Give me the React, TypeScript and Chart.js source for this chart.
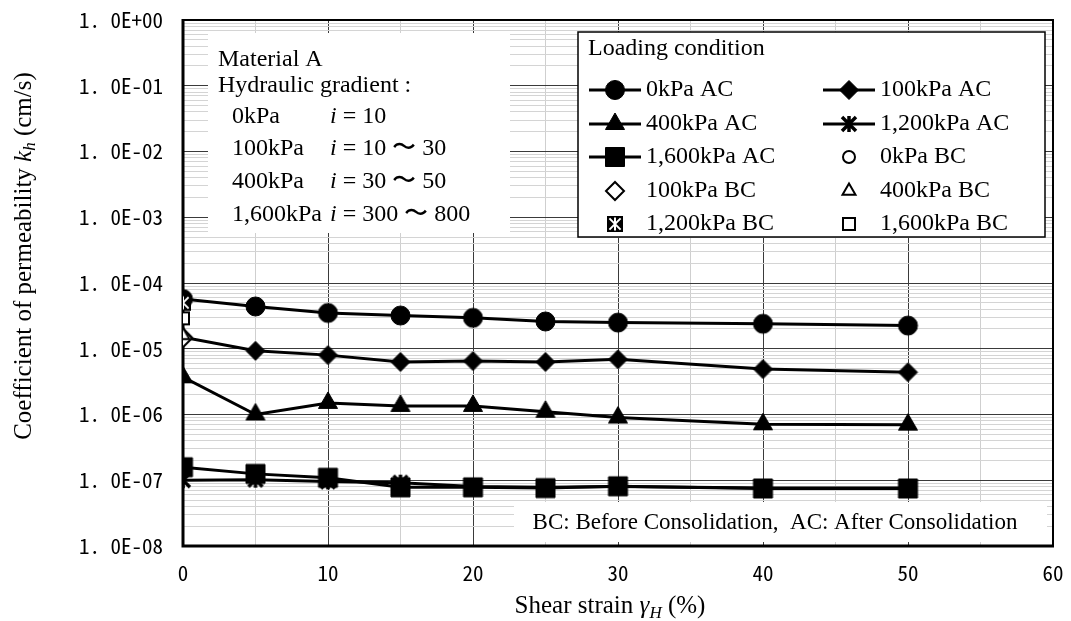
import React, { useEffect, useRef } from 'react';
import { Chart, registerables } from 'chart.js';

Chart.register(...registerables);

// ---------------- data ----------------
const strain = [0, 5, 10, 15, 20, 25, 30, 40, 50];
const k0AC = [5.7e-5, 4.4e-5, 3.5e-5, 3.2e-5, 2.95e-5, 2.6e-5, 2.5e-5, 2.4e-5, 2.25e-5];
const k100AC = [1.5e-5, 9.3e-6, 8.0e-6, 6.3e-6, 6.5e-6, 6.3e-6, 6.9e-6, 4.9e-6, 4.4e-6];
const k400AC = [3.7e-6, 1.0e-6, 1.5e-6, 1.35e-6, 1.35e-6, 1.1e-6, 9.0e-7, 7.1e-7, 7.0e-7];
const k1200AC = [1.0e-7, 1.02e-7, 9.6e-8, 9.2e-8, 8.0e-8, 7.8e-8, 8.0e-8, 7.6e-8, 7.6e-8];
const k1600AC = [1.58e-7, 1.25e-7, 1.09e-7, 7.8e-8, 7.8e-8, 7.6e-8, 8.1e-8, 7.5e-8, 7.5e-8];
const bcStrain = [0];
const k0BC = [5.0e-5];
const k100BC = [1.45e-5];
const k400BC = [1.6e-5];
const k1200BC = [5.0e-5];
const k1600BC = [2.9e-5];

const seriesLabels = [
  '0kPa AC', '100kPa AC', '400kPa AC', '1,200kPa AC', '1,600kPa AC',
  '0kPa BC', '100kPa BC', '400kPa BC', '1,200kPa BC', '1,600kPa BC',
];
const yExponents = [-8, -7, -6, -5, -4, -3, -2, -1, 0];
const yTickLabels = ['1. 0E-08', '1. 0E-07', '1. 0E-06', '1. 0E-05', '1. 0E-04', '1. 0E-03', '1. 0E-02', '1. 0E-01', '1. 0E+00'];
const xTickLabels = ['0', '10', '20', '30', '40', '50', '60'];

const legendTitle = 'Loading condition';
const materialText = 'Material A';
const gradientTitle = 'Hydraulic gradient :';
const gradientPressures = ['0kPa', '100kPa', '400kPa', '1,600kPa'];
const gradientRanges = ['10', '10 〜 30', '30 〜 50', '300 〜 800'];
const noteText = 'BC: Before Consolidation,  AC: After Consolidation';

// ---------------- markers ----------------
type Kind = 'circle' | 'diamond' | 'triangle' | 'square' | 'asterisk' | 'starbox';
interface Spec { kind: Kind; size: number; filled: boolean; line: boolean }

const specs: Spec[] = [
  { kind: 'circle', size: 9.5, filled: true, line: true },
  { kind: 'diamond', size: 9.5, filled: true, line: true },
  { kind: 'triangle', size: 11, filled: true, line: true },
  { kind: 'asterisk', size: 7, filled: true, line: true },
  { kind: 'square', size: 9.5, filled: true, line: true },
  { kind: 'circle', size: 6, filled: false, line: false },
  { kind: 'diamond', size: 9, filled: false, line: false },
  { kind: 'triangle', size: 7.5, filled: false, line: false },
  { kind: 'starbox', size: 8, filled: true, line: false },
  { kind: 'square', size: 6, filled: false, line: false },
];

function tracePath(ctx: CanvasRenderingContext2D, kind: Kind, x: number, y: number, s: number) {
  ctx.beginPath();
  if (kind === 'circle') {
    ctx.arc(x, y, s, 0, Math.PI * 2);
  } else if (kind === 'diamond') {
    ctx.moveTo(x - s, y); ctx.lineTo(x, y - s); ctx.lineTo(x + s, y); ctx.lineTo(x, y + s); ctx.closePath();
  } else if (kind === 'triangle') {
    ctx.moveTo(x, y - s); ctx.lineTo(x + 0.866 * s, y + 0.5 * s); ctx.lineTo(x - 0.866 * s, y + 0.5 * s); ctx.closePath();
  } else {
    ctx.rect(x - s, y - s, 2 * s, 2 * s);
  }
}

function asteriskLines(ctx: CanvasRenderingContext2D, x: number, y: number, s: number) {
  ctx.beginPath();
  ctx.moveTo(x - s, y - s); ctx.lineTo(x + s, y + s);
  ctx.moveTo(x + s, y - s); ctx.lineTo(x - s, y + s);
  ctx.moveTo(x, y - s - 1); ctx.lineTo(x, y + s + 1);
  ctx.stroke();
}

function drawMarker(ctx: CanvasRenderingContext2D, spec: Spec, x: number, y: number) {
  ctx.save();
  ctx.setLineDash([]);
  if (spec.kind === 'asterisk') {
    ctx.strokeStyle = '#000';
    ctx.lineWidth = 3.5;
    ctx.lineCap = 'butt';
    asteriskLines(ctx, x, y, spec.size);
  } else if (spec.kind === 'starbox') {
    ctx.fillStyle = '#000';
    ctx.fillRect(x - spec.size, y - spec.size, spec.size * 2, spec.size * 2);
    ctx.strokeStyle = '#fff';
    ctx.lineWidth = 2;
    asteriskLines(ctx, x, y, spec.size * 0.7);
  } else {
    tracePath(ctx, spec.kind, x, y, spec.size);
    ctx.fillStyle = spec.filled ? '#000' : '#fff';
    ctx.fill();
    ctx.strokeStyle = '#000';
    ctx.lineWidth = spec.filled ? 1 : 2;
    ctx.stroke();
  }
  ctx.restore();
}

function makeMarkerCanvas(spec: Spec): HTMLCanvasElement {
  const dim = Math.ceil(2 * (spec.size + 3));
  const c = document.createElement('canvas');
  c.width = dim;
  c.height = dim;
  const ctx = c.getContext('2d')!;
  drawMarker(ctx, spec, dim / 2, dim / 2);
  return c;
}

const SERIF = "'Liberation Serif', 'Times New Roman', serif";
const TICKFONT = "'Noto Sans Mono CJK JP', 'Noto Sans CJK JP', 'DejaVu Sans Mono', monospace";

function isDecade(v: number) {
  const l = Math.log10(v);
  return Math.abs(l - Math.round(l)) < 1e-6;
}

// ---------------- decorations plugin ----------------
const decorations = {
  id: 'decorations',
  beforeDatasetsDraw(chart: any) {
    const ctx: CanvasRenderingContext2D = chart.ctx;
    const a = chart.chartArea;
    ctx.save();
    // frame
    ctx.strokeStyle = '#000';
    ctx.lineWidth = 2;
    ctx.beginPath();
    ctx.moveTo(a.left, a.top); ctx.lineTo(a.right, a.top); ctx.lineTo(a.right, a.bottom);
    ctx.stroke();
    ctx.lineWidth = 3;
    ctx.beginPath();
    ctx.moveTo(a.left, a.top - 1); ctx.lineTo(a.left, a.bottom); ctx.lineTo(a.right + 1, a.bottom);
    ctx.stroke();

    // info text box
    ctx.fillStyle = '#fff';
    ctx.fillRect(208, 33, 302, 200);
    ctx.fillStyle = '#000';
    ctx.textBaseline = 'middle';
    ctx.textAlign = 'left';
    ctx.font = `24px ${SERIF}`;
    ctx.fillText(materialText, 218, 60);
    ctx.fillText(gradientTitle, 218, 86);
    const rowsY = [117, 149, 182, 215];
    gradientPressures.forEach((p, i) => {
      ctx.font = `24px ${SERIF}`;
      ctx.fillText(p, 232, rowsY[i]);
      ctx.font = `italic 24px ${SERIF}`;
      ctx.fillText('i', 330, rowsY[i]);
      const iw = ctx.measureText('i').width;
      ctx.font = `24px ${SERIF}`;
      ctx.fillText(' = ' + gradientRanges[i], 330 + iw, rowsY[i]);
    });

    // legend box
    ctx.fillStyle = '#fff';
    ctx.fillRect(578, 32, 467, 205);
    ctx.strokeStyle = '#000';
    ctx.lineWidth = 1.5;
    ctx.strokeRect(578, 32, 467, 205);
    ctx.fillStyle = '#000';
    ctx.font = `24px ${SERIF}`;
    ctx.fillText(legendTitle, 588, 49);
    const legRows = [90, 124, 157, 191, 224];
    const lineStart = [589, 823];
    const textX = [646, 880];
    seriesLabels.forEach((lab, i) => {
      const r = Math.floor(i / 2);
      const c = i % 2;
      const y = legRows[r];
      const sp = specs[i];
      if (sp.line) {
        ctx.strokeStyle = '#000';
        ctx.lineWidth = 3;
        ctx.beginPath();
        ctx.moveTo(lineStart[c], y);
        ctx.lineTo(lineStart[c] + 52, y);
        ctx.stroke();
      }
      drawMarker(ctx, sp, lineStart[c] + 26, y);
      ctx.fillStyle = '#000';
      ctx.font = `24px ${SERIF}`;
      ctx.fillText(lab, textX[c], y);
    });

    // note box
    ctx.fillStyle = '#fff';
    ctx.fillRect(514, 502, 533, 40);
    ctx.fillStyle = '#000';
    ctx.font = `23px ${SERIF}`;
    ctx.textAlign = 'center';
    ctx.fillText(noteText, 775, 523);
    ctx.restore();
  },
  afterDraw(chart: any) {
    const ctx: CanvasRenderingContext2D = chart.ctx;
    ctx.save();
    ctx.fillStyle = '#000';
    ctx.textBaseline = 'alphabetic';
    ctx.textAlign = 'left';

    const drawParts = (parts: { t: string; f: string; dy: number }[], cx: number, by: number) => {
      let total = 0;
      parts.forEach((p) => { ctx.font = p.f; total += ctx.measureText(p.t).width; });
      let x = cx - total / 2;
      parts.forEach((p) => {
        ctx.font = p.f;
        ctx.fillText(p.t, x, by + p.dy);
        x += ctx.measureText(p.t).width;
      });
    };

    // x title
    drawParts([
      { t: 'Shear strain ', f: `25px ${SERIF}`, dy: 0 },
      { t: 'γ', f: `italic 25px ${SERIF}`, dy: 0 },
      { t: 'H', f: `italic 17px ${SERIF}`, dy: 5 },
      { t: ' (%)', f: `25px ${SERIF}`, dy: 0 },
    ], 610, 613);

    // y title
    ctx.translate(31, 256);
    ctx.rotate(-Math.PI / 2);
    drawParts([
      { t: 'Coefficient of permeability ', f: `25px ${SERIF}`, dy: 0 },
      { t: 'k', f: `italic 25px ${SERIF}`, dy: 0 },
      { t: 'h', f: `italic 17px ${SERIF}`, dy: 4 },
      { t: ' (cm/s)', f: `25px ${SERIF}`, dy: 0 },
    ], 0, 0);
    ctx.restore();
  },
};

export default function App() {
  const ref = useRef<HTMLCanvasElement | null>(null);

  useEffect(() => {
    if (!ref.current) return;
    const series = [k0AC, k100AC, k400AC, k1200AC, k1600AC, k0BC, k100BC, k400BC, k1200BC, k1600BC];
    const datasets = series.map((ys, i) => {
      const xs = i < 5 ? strain : bcStrain;
      return {
        label: seriesLabels[i],
        data: ys.map((y, j) => ({ x: xs[j], y })),
        showLine: specs[i].line,
        borderColor: '#000',
        backgroundColor: '#000',
        borderWidth: 3,
        pointStyle: makeMarkerCanvas(specs[i]),
        pointRadius: specs[i].size,
        order: 20 - i,
      };
    });

    const yTickValues: number[] = [];
    for (let e = -8; e < 0; e++) {
      for (let m = 1; m <= 9; m++) yTickValues.push(m * Math.pow(10, e));
    }
    yTickValues.push(1);

    const chart = new Chart(ref.current, {
      type: 'scatter',
      data: { datasets: datasets as any },
      plugins: [decorations],
      options: {
        animation: false,
        responsive: false,
        events: [],
        layout: { padding: { left: 0, right: 18, top: 20, bottom: 0 } },
        plugins: { legend: { display: false }, tooltip: { enabled: false } },
        scales: {
          x: {
            type: 'linear',
            min: 0,
            max: 60,
            afterFit: (s: any) => { s.height = 75; },
            ticks: {
              stepSize: 5,
              autoSkip: false,
              maxRotation: 0,
              padding: 2,
              color: '#000',
              font: { family: TICKFONT, size: 21 },
              callback: (v: any) => (Number(v) % 10 === 0 ? xTickLabels[Number(v) / 10] : ''),
            },
            grid: {
              drawTicks: true,
              tickLength: 12,
              tickColor: 'rgba(0,0,0,0)',
              lineWidth: 1,
              color: (c: any) => (c.tick && c.tick.value % 10 === 0 ? '#3a3a3a' : '#cfcfcf'),
            },
            border: { display: false },
          },
          y: {
            type: 'logarithmic',
            min: 1e-8,
            max: 1,
            afterFit: (s: any) => { s.width = 183; },
            afterBuildTicks: (s: any) => { s.ticks = yTickValues.map((v) => ({ value: v })); },
            ticks: {
              autoSkip: false,
              padding: 0,
              color: '#000',
              font: { family: TICKFONT, size: 21 },
              callback: (v: any) => {
                const n = Number(v);
                if (!isDecade(n)) return '';
                return yTickLabels[yExponents.indexOf(Math.round(Math.log10(n)))];
              },
            },
            grid: {
              drawTicks: true,
              tickLength: 20,
              tickColor: 'rgba(0,0,0,0)',
              lineWidth: 1,
              color: (c: any) => (c.tick && isDecade(c.tick.value) ? '#3a3a3a' : '#d4d4d4'),
            },
            border: { display: false },
          },
        },
      } as any,
    });
    return () => chart.destroy();
  }, []);

  return (
    <div style={{ position: 'fixed', left: 0, top: 0, width: 1071, height: 621, background: '#fff' }}>
      <canvas ref={ref} width={1071} height={621} style={{ display: 'block' }} />
    </div>
  );
}
